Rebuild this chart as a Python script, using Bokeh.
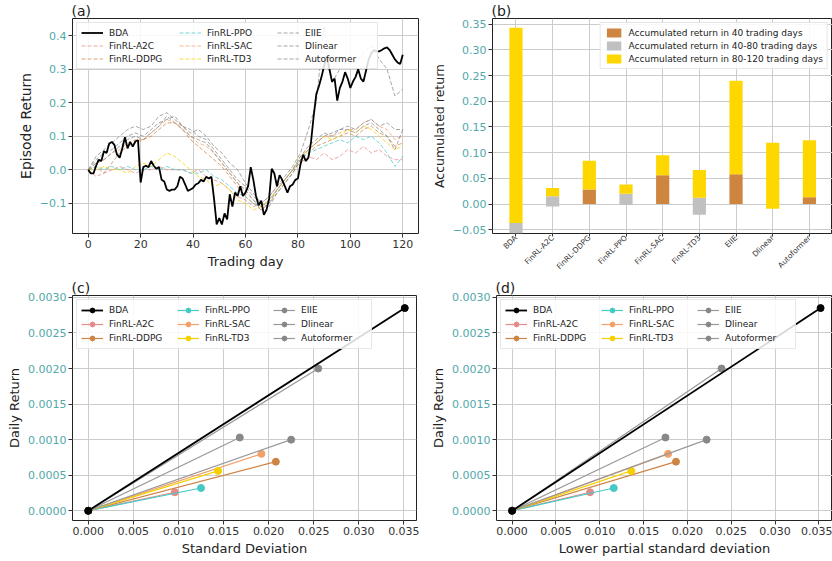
from bokeh.plotting import figure
from bokeh.layouts import column, row
from bokeh.models import Legend, LegendItem, FixedTicker, Range1d
from bokeh.embed import file_html
from bokeh.resources import INLINE
import math

FONT = "DejaVu Sans"
TEAL = "#52a8a8"
DARK = "#333333"

# ---------------- data: (a) episode return ----------------
bda_days = list(range(121))
bda_return = [
    0.0, -0.011, -0.011, 0.012, 0.030, 0.026, 0.055, 0.050, 0.078, 0.083,
    0.074, 0.045, 0.036, 0.064, 0.097, 0.064, 0.083, 0.069, 0.085, 0.088,
    -0.038, 0.008, 0.012, 0.008, 0.026, 0.012, 0.003, 0.008, -0.030, -0.035,
    -0.059, -0.063, -0.059, -0.059, -0.049, -0.021, -0.026, -0.044, -0.063, -0.059,
    -0.054, -0.044, -0.040, -0.030, -0.035, -0.021, -0.026, -0.021, -0.087, -0.163,
    -0.144, -0.163, -0.130, -0.148, -0.073, -0.110, -0.068, -0.078, -0.049, -0.078,
    -0.068, -0.049, 0.008, -0.030, -0.078, -0.106, -0.092, -0.134, -0.120, -0.087,
    0.003, -0.011, -0.049, -0.016, -0.030, -0.049, -0.068, -0.049, -0.044, -0.030,
    -0.026, 0.017, 0.045, 0.026, 0.036, 0.083, 0.159, 0.225, 0.249, 0.277,
    0.310, 0.339, 0.300, 0.263, 0.272, 0.206, 0.244, 0.263, 0.291, 0.272,
    0.244, 0.263, 0.277, 0.300, 0.272, 0.263, 0.296, 0.329, 0.348, 0.357,
    0.353, 0.353, 0.357, 0.362, 0.365, 0.357, 0.343, 0.329, 0.320, 0.315, 0.343,
]
sample_days = list(range(0, 121, 3))
a2c_return = [0, -.02, -.01, 0, .01, 0, -.01, 0, 0, .01,
              0, 0, 0, -.01, 0, -.02, -.03, -.04, -.06, -.08,
              -.09, -.11, -.10, -.08, -.05, -.03, 0, .02, .04, .03,
              .05, .03, .04, .06, .05, .07, .05, .06, .04, .03, .03]
ddpg_return = [0, .01, -.01, .02, .05, .07, .08, .09, .10, .12,
               .14, .14, .12, .09, .07, .05, .03, .01, -.02, -.05,
               -.08, -.10, -.12, -.10, -.07, -.04, -.01, .03, .05, .07,
               .08, .09, .10, .11, .10, .12, .13, .11, .10, .07, .08]
ppo_return = [0, .01, 0, .01, 0, .01, 0, 0, .01, 0,
              .01, 0, 0, -.01, -.01, 0, -.02, -.03, -.05, -.07,
              -.08, -.10, -.11, -.09, -.06, -.03, 0, .03, .05, .06,
              .07, .08, .09, .08, .10, .09, .10, .08, .05, .01, .04]
sac_return = [0, .02, .03, .05, .06, .08, .09, .09, .11, .13,
              .15, .14, .13, .10, .08, .07, .05, .02, -.01, -.04,
              -.07, -.09, -.11, -.09, -.06, -.03, 0, .04, .06, .08,
              .10, .10, .11, .12, .12, .14, .15, .13, .12, .09, .10]
td3_return = [0, 0, .01, 0, 0, -.01, .01, .02, .01, .03,
              .05, .04, .02, 0, -.02, -.03, -.05, -.04, -.06, -.09,
              -.10, -.12, -.11, -.09, -.06, -.03, 0, .04, .06, .08,
              .10, .09, .10, .12, .11, .13, .12, .10, .08, .06, .07]
eiie_return = [0, .04, .06, .08, .10, .12, .13, .12, .13, .16,
               .17, .15, .13, .11, .12, .10, .07, .05, .02, 0,
               -.04, -.07, -.10, -.08, -.05, -.02, .01, .05, .12, .20,
               .43, .26, .30, .33, .32, .35, .37, .33, .30, .22, .24]
dlinear_return = [0, .03, .05, .06, .08, .10, .11, .10, .12, .14,
                  .15, .16, .13, .12, .10, .09, .06, .03, 0, -.03,
                  -.05, -.08, -.10, -.11, -.07, -.04, -.01, .03, .06, .08,
                  .10, .11, .12, .13, .12, .14, .15, .13, .14, .12, .12]
autoformer_return = [0, .02, .03, .05, .07, .09, .10, .09, .11, .13,
                     .16, .14, .12, .10, .09, .08, .05, .02, -.01, -.04,
                     -.06, -.09, -.12, -.10, -.06, -.03, 0, .04, .07, .09,
                     .11, .10, .12, .12, .11, .13, .14, .12, .10, .06, .12]

methods = ["BDA", "FinRL-A2C", "FinRL-DDPG", "FinRL-PPO", "FinRL-SAC",
           "FinRL-TD3", "EIIE", "Dlinear", "Autoformer"]
colors = ["#000000", "#e58a8a", "#cd8445", "#45c9c4", "#f0a068",
          "#f5d000", "#888888", "#888888", "#888888"]

# ---------------- data: (b) accumulated return segments ----------------
bar_pos = list(range(9))
seg40_bottom = [0, 0, 0, 0, 0, 0, 0, 0, 0]
seg40_top = [0, 0, 0.028, 0, 0.056, 0, 0.058, 0, 0.013]
seg4080_bottom = [-0.060, -0.005, 0, -0.002, 0, -0.021, 0, 0, 0]
seg4080_top = [-0.037, 0.015, 0, 0.020, 0, 0.012, 0, 0, 0]
seg80120_bottom = [-0.037, 0.015, 0.028, 0.020, 0.056, 0.012, 0.058, -0.009, 0.013]
seg80120_top = [0.343, 0.031, 0.084, 0.038, 0.095, 0.066, 0.240, 0.119, 0.124]
seg_labels = ["Accumulated return in 40 trading days",
              "Accumulated return in 40-80 trading days",
              "Accumulated return in 80-120 trading days"]
seg_colors = ["#cd853f", "#c0c0c0", "#ffd700"]

# ---------------- data: (c),(d) risk / return ----------------
daily_return = [0.00285, 0.00026, 0.00069, 0.00032, 0.00080, 0.00056, 0.00200, 0.00103, 0.00100]
std_dev = [0.0351, 0.0096, 0.0208, 0.0125, 0.0192, 0.0144, 0.0255, 0.0168, 0.0225]
lower_std = [0.0352, 0.0089, 0.0187, 0.0116, 0.0178, 0.0136, 0.0239, 0.0175, 0.0222]

ticks_a_x = [0, 20, 40, 60, 80, 100, 120]
ticks_a_y = [-0.1, 0.0, 0.1, 0.2, 0.3, 0.4]
labels_a_y = ["\u22120.1", "0.0", "0.1", "0.2", "0.3", "0.4"]
ticks_b_y = [-0.05, 0.0, 0.05, 0.10, 0.15, 0.20, 0.25, 0.30, 0.35]
labels_b_y = ["\u22120.05", "0.00", "0.05", "0.10", "0.15", "0.20", "0.25", "0.30", "0.35"]
ticks_cd_x = [0.0, 0.005, 0.010, 0.015, 0.020, 0.025, 0.030, 0.035]
labels_cd_x = ["0.000", "0.005", "0.010", "0.015", "0.020", "0.025", "0.030", "0.035"]
ticks_cd_y = [0.0, 0.0005, 0.0010, 0.0015, 0.0020, 0.0025, 0.0030]
labels_cd_y = ["0.0000", "0.0005", "0.0010", "0.0015", "0.0020", "0.0025", "0.0030"]


def base_fig(w, h, bl, br, bt, bb, xr, yr, tag):
    p = figure(width=w, height=h, min_border_left=bl, min_border_right=br,
               min_border_top=bt, min_border_bottom=bb,
               x_range=Range1d(*xr), y_range=Range1d(*yr),
               output_backend="svg", toolbar_location=None, title=tag)
    p.title.align = "left"
    p.title.text_font = FONT
    p.title.text_font_size = "14px"
    p.title.text_font_style = "normal"
    p.title.text_color = "#222222"
    p.title.standoff = 0
    p.title.offset = -1
    p.outline_line_color = "#222222"
    p.outline_line_width = 1
    p.background_fill_color = "white"
    p.border_fill_color = "white"
    p.grid.grid_line_color = "#cccccc"
    p.grid.grid_line_width = 1
    for ax in [p.xaxis[0], p.yaxis[0]]:
        ax.axis_line_color = None
        ax.major_tick_out = 4
        ax.major_tick_in = 0
        ax.minor_tick_out = 0
        ax.minor_tick_in = 0
        ax.major_tick_line_color = DARK
        ax.major_label_text_font = FONT
        ax.major_label_text_font_size = "11px"
        ax.axis_label_text_font = FONT
        ax.axis_label_text_font_style = "normal"
        ax.axis_label_text_color = "#222222"
        ax.axis_label_text_font_size = "13px"
        ax.axis_label_standoff = 3
        ax.major_label_standoff = 2
    p.yaxis[0].major_label_text_color = TEAL
    p.xaxis[0].major_label_text_color = DARK
    return p


def set_ticks(axis, grid, ticks, labels=None):
    t = FixedTicker(ticks=ticks)
    axis.ticker = t
    grid.ticker = t
    if labels is not None:
        axis.major_label_overrides = {k: v for k, v in zip(ticks, labels)}


def style_legend(leg, fs="9px"):
    leg.label_text_font = FONT
    leg.label_text_font_size = fs
    leg.label_text_color = "#222222"
    leg.border_line_color = "#d0d0d0"
    leg.border_line_width = 1
    leg.background_fill_alpha = 0.85
    leg.margin = 4
    leg.padding = 4
    leg.spacing = 2


# ---------------- (a) ----------------
TOP_H = 277
xr_a = (-6, 126)
yr_a = (-0.19, 0.451)
pa = base_fig(428, TOP_H, 72, 10, 16, 39, xr_a, yr_a, "(a)")
set_ticks(pa.xaxis[0], pa.xgrid[0], ticks_a_x)
set_ticks(pa.yaxis[0], pa.ygrid[0], ticks_a_y, labels_a_y)
pa.xaxis[0].axis_label = "Trading day"
pa.yaxis[0].axis_label = "Episode Return"
pa.yaxis[0].axis_label_text_font_size = "14px"

thin_series = [a2c_return, ddpg_return, ppo_return, sac_return, td3_return,
               eiie_return, dlinear_return, autoformer_return]
renderers_a = {}
for name, col, ys in zip(methods[1:], colors[1:], thin_series):
    r = pa.line(sample_days, ys, line_color=col, line_width=1, line_alpha=0.75,
                line_dash="4 2")
    renderers_a[name] = r
renderers_a["BDA"] = pa.line(bda_days, bda_return, line_color="black", line_width=1.8)
leg_a = Legend(items=[LegendItem(label=m, renderers=[renderers_a[m]]) for m in methods],
               location="top_left", orientation="vertical", ncols=3)
style_legend(leg_a)
leg_a.glyph_width = 22
leg_a.glyph_height = 11
leg_a.label_height = 11
leg_a.label_width = 68
leg_a.label_standoff = 6
pa.add_layout(leg_a)

# ---------------- (b) ----------------
xr_b = (-0.64, 8.63)
yr_b = (-0.0574, 0.361)
pb = base_fig(404, TOP_H, 61, 0, 16, 39, xr_b, yr_b, "(b)")
set_ticks(pb.xaxis[0], pb.xgrid[0], bar_pos, methods)
set_ticks(pb.yaxis[0], pb.ygrid[0], ticks_b_y, labels_b_y)
pb.xaxis[0].major_label_orientation = math.pi / 4
pb.xaxis[0].major_label_text_font_size = "7.5px"
pb.xaxis[0].major_label_standoff = 0
pb.xaxis[0].major_tick_out = 3
pb.yaxis[0].axis_label = "Accumulated return"
pb.yaxis[0].axis_label_text_font_size = "12.5px"
bars = []
for bot, top, col in [(seg40_bottom, seg40_top, seg_colors[0]),
                      (seg4080_bottom, seg4080_top, seg_colors[1]),
                      (seg80120_bottom, seg80120_top, seg_colors[2])]:
    bars.append(pb.vbar(x=bar_pos, bottom=bot, top=top, width=0.36,
                        fill_color=col, line_color=None))
leg_b = Legend(items=[LegendItem(label=l, renderers=[r]) for l, r in zip(seg_labels, bars)],
               location="top_right")
style_legend(leg_b)
leg_b.glyph_width = 18
leg_b.glyph_height = 11
leg_b.label_height = 11
leg_b.label_standoff = 6
pb.add_layout(leg_b)

# ---------------- (c), (d) ----------------
BOT_H = 283
yr_cd = (-0.000137, 0.003027)


def risk_fig(w, bl, br, xr, xs, xlabel, tag):
    p = base_fig(w, BOT_H, bl, br, 13, 40, xr, yr_cd, tag)
    set_ticks(p.xaxis[0], p.xgrid[0], ticks_cd_x, labels_cd_x)
    set_ticks(p.yaxis[0], p.ygrid[0], ticks_cd_y, labels_cd_y)
    p.xaxis[0].axis_label = xlabel
    p.yaxis[0].axis_label = "Daily Return"
    items = []
    order = list(range(1, 9)) + [0]
    rends = {}
    for i in order:
        col = colors[i]
        lcol = "#999999" if col == "#888888" else col
        lw = 1.8 if i == 0 else 1.2
        ln = p.line([0, xs[i]], [0, daily_return[i]], line_color=lcol, line_width=lw)
        sc = p.scatter([0, xs[i]], [0, daily_return[i]], size=7, fill_color=col,
                       line_color=col)
        rends[i] = [ln, sc]
    for i in range(9):
        items.append(LegendItem(label=methods[i], renderers=rends[i]))
    leg = Legend(items=items, location="top_left", orientation="vertical", ncols=3)
    style_legend(leg)
    leg.glyph_width = 22
    leg.glyph_height = 12
    leg.label_height = 12
    leg.label_width = 66
    leg.label_standoff = 6
    p.add_layout(leg)
    return p


pc = risk_fig(428, 72, 12, (-0.00175, 0.0364), std_dev, "Standard Deviation", "(c)")
pd_ = risk_fig(404, 60, 0, (-0.00178, 0.03656), lower_std,
               "Lower partial standard deviation", "(d)")

layout = column(row(pa, pb), row(pc, pd_))
open("out.html", "w").write(file_html(layout, INLINE))
